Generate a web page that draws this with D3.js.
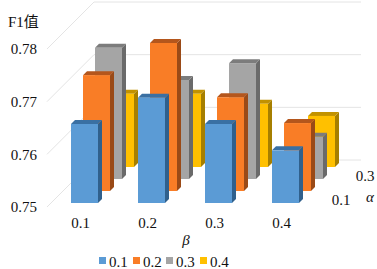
<!DOCTYPE html>
<html lang="en">
<head>
    <meta charset="UTF-8">
    <title>F1 3D bars</title>
    <style>
        body { margin: 0; padding: 0; background: #fff; }
        svg { display: block; }
        text { font-family: "Liberation Serif", serif; fill: #111; }
        .tick text { font-family: "Liberation Serif", serif; font-size: 15px; fill: #111; }
        .grid { stroke: #e4e4e4; stroke-width: 1; fill: none; }
    </style>
</head>
<body>
    <div id="chart"></div>

    <script src="https://d3js.org/d3.v7.min.js"></script>
    <script>
        // Chart data
        const betas = ["0.1", "0.2", "0.3", "0.4"];
        const alphas = ["0.1", "0.2", "0.3", "0.4"];
        const yTicks = [0.75, 0.76, 0.77, 0.78];
        const alpha01 = [0.7650, 0.7700, 0.7650, 0.7600];
        const alpha02 = [0.7720, 0.7781, 0.7678, 0.7629];
        const alpha03 = [0.7749, 0.7688, 0.7720, 0.7580];
        const alpha04 = [0.7639, 0.7639, 0.7620, 0.7597];
        const seriesValues = [alpha01, alpha02, alpha03, alpha04];
        const faceColors = ["#5B9BD5", "#F97D26", "#A5A5A5", "#FFC000"];
        const topColors = ["#3A70A3", "#B4561C", "#7C7C7C", "#C29200"];
        const sideColors = ["#30608C", "#9A4A17", "#6A6A6A", "#A67F00"];

        const width = 377, height = 269;
        const svg = d3.select("#chart").append("svg").attr("width", width).attr("height", height);

        // scales: x along the front, y up the wall, depth goes back and to the right
        const x = d3.scaleBand().domain(betas).range([47, 315]).paddingInner(0.597).paddingOuter(0.2985);
        const y = d3.scaleLinear().domain([0.75, 0.78]).range([207, 49]);
        const depth = d3.scaleBand().domain(alphas).range([0, 48]);
        const depthMax = 47;
        const barDepth = 4;

        // Gridlines
        svg.selectAll(".grid")
            .data(yTicks)
            .enter()
            .append("path")
            .attr("class", "grid")
            .attr("d", d => d3.line()([[47, y(d)], [47 + depthMax, y(d) - depthMax], [314 + depthMax, y(d) - depthMax]]));

        // Bars, back row first
        const rows = d3.range(alphas.length).reverse();
        rows.forEach(s => {
            const d0 = depth(alphas[s]) + barDepth;
            const g = svg.append("g").attr("transform", `translate(${d0},${-d0})`);
            const bars = g.selectAll("g")
                .data(seriesValues[s].map((v, i) => ({ beta: betas[i], value: v })))
                .enter()
                .append("g");

            bars.append("path")
                .attr("fill", sideColors[s])
                .attr("d", d => {
                    const r = x(d.beta) + x.bandwidth();
                    return d3.line()([[r, y(d.value)], [r + barDepth, y(d.value) - barDepth], [r + barDepth, y(0.75) - barDepth], [r, y(0.75)]]) + "Z";
                });
            bars.append("path")
                .attr("fill", topColors[s])
                .attr("d", d => {
                    const l = x(d.beta), r = l + x.bandwidth();
                    return d3.line()([[l, y(d.value)], [l + barDepth, y(d.value) - barDepth], [r + barDepth, y(d.value) - barDepth], [r, y(d.value)]]) + "Z";
                });
            bars.append("rect")
                .attr("x", d => x(d.beta))
                .attr("y", d => y(d.value))
                .attr("width", x.bandwidth())
                .attr("height", d => y(0.75) - y(d.value))
                .attr("fill", faceColors[s]);
        });

        // Axes
        svg.append("g")
            .attr("transform", "translate(42,0)")
            .call(d3.axisLeft(y).tickValues(yTicks).tickFormat(d3.format(".2f")).tickSize(0).tickPadding(5))
            .call(g => g.select(".domain").remove());

        svg.append("g")
            .attr("transform", "translate(0,214.5)")
            .call(d3.axisBottom(x).tickSize(0).tickPadding(3))
            .call(g => g.select(".domain").remove());

        // alpha labels, every other one
        svg.selectAll(".alphaLabel")
            .data(["0.1", "0.3"])
            .enter()
            .append("text")
            .attr("class", "alphaLabel")
            .attr("x", d => 335 + depth(d) + depth.bandwidth() / 2)
            .attr("y", d => 211 - depth(d) - depth.bandwidth() / 2)
            .attr("text-anchor", "middle")
            .attr("font-size", 15)
            .text(d => d);

        svg.append("text").attr("x", 8).attr("y", 27).attr("font-size", 15).style("font-family", '"Liberation Serif", "Noto Sans CJK SC", serif').text("F1值");
        svg.append("text").attr("x", 186).attr("y", 245).attr("font-size", 15).attr("font-style", "italic").attr("text-anchor", "middle").text("β");
        svg.append("text").attr("x", 370).attr("y", 202).attr("font-size", 15).attr("font-style", "italic").attr("text-anchor", "middle").text("α");

        // Legend
        const legendX = d3.scaleOrdinal().domain(alphas).range([99, 133, 166, 200]);
        const legend = svg.selectAll(".legend")
            .data(alphas)
            .enter()
            .append("g")
            .attr("class", "legend")
            .attr("transform", d => `translate(${legendX(d)},257)`);
        legend.append("rect").attr("width", 7).attr("height", 7).attr("fill", (d, i) => faceColors[i]);
        legend.append("text").attr("x", 10).attr("y", 9.5).attr("font-size", 15).text(d => d);
    </script>
</body>
</html>
